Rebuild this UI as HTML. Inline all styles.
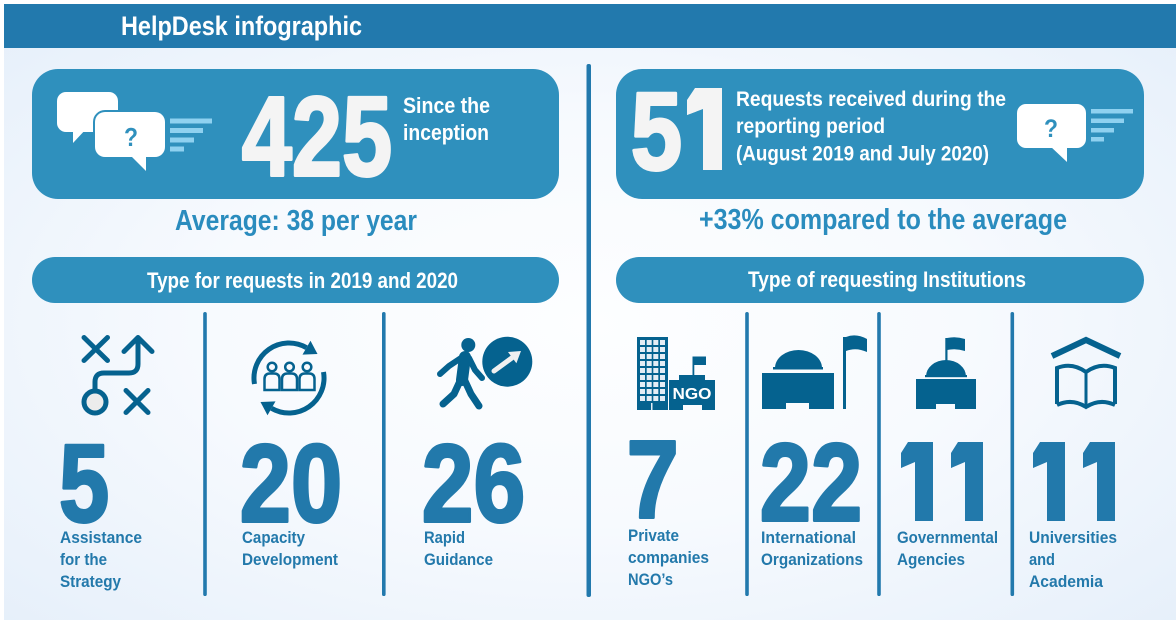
<!DOCTYPE html>
<html>
<head>
<meta charset="utf-8">
<style>
html,body{margin:0;padding:0;background:#fff;}
body{width:1176px;height:620px;overflow:hidden;}
svg{display:block;}
.t{font-family:"Liberation Sans",Arial,sans-serif;font-weight:bold;}
</style>
</head>
<body>
<svg width="1176" height="620" viewBox="0 0 1176 620" xmlns="http://www.w3.org/2000/svg">
<defs>
<radialGradient id="bg" cx="50%" cy="52%" r="72%">
<stop offset="0" stop-color="#fdfeff"/>
<stop offset="0.45" stop-color="#f7fafe"/>
<stop offset="1" stop-color="#e5effa"/>
</radialGradient>
<clipPath id="cg1"><polygon points="908,442 933,442 933,521 915,521 915,462 901,468 901,453"/></clipPath>
<clipPath id="cg2"><polygon points="958,442 983,442 983,521 965,521 965,462 951,468 951,453"/></clipPath>
<clipPath id="cu1"><polygon points="1040,442 1065,442 1065,521 1047,521 1047,462 1033,468 1033,453"/></clipPath>
<clipPath id="cu2"><polygon points="1090,442 1115,442 1115,521 1097,521 1097,462 1083,468 1083,453"/></clipPath>
<clipPath id="c51"><polygon points="695,88 722,88 722,170 703,170 703,109 687,115 687,100"/></clipPath>
</defs>
<rect width="1176" height="620" fill="#fff"/>
<rect x="4" y="4" width="1172" height="616" fill="url(#bg)"/>
<!-- header -->
<rect x="4" y="4" width="1172" height="44" fill="#2279ad"/>
<text class="t" x="121" y="35" font-size="27" fill="#fff" textLength="241" lengthAdjust="spacingAndGlyphs">HelpDesk infographic</text>

<!-- main divider -->
<rect x="586.5" y="64" width="4.5" height="533" rx="2" fill="#2279ad"/>

<!-- left box -->
<rect x="32" y="69" width="527" height="130" rx="26" fill="#2f90bd"/>
<rect x="57" y="92" width="61" height="40" rx="9" fill="#fff"/>
<polygon points="73,128 73,143 87,128" fill="#fff"/>
<rect x="95" y="112" width="70" height="45" rx="10" fill="#fff" stroke="#2f90bd" stroke-width="4"/>
<rect x="95" y="112" width="70" height="45" rx="10" fill="#fff"/>
<polygon points="130,155 146,171 146,155" fill="#fff"/>
<text class="t" x="124" y="146" font-size="26" fill="#2f90bd" textLength="14" lengthAdjust="spacingAndGlyphs">?</text>
<g fill="#8fd1f0">
<rect x="170" y="118.5" width="42" height="5"/>
<rect x="170" y="128" width="33" height="5"/>
<rect x="170" y="137.5" width="24" height="5"/>
<rect x="170" y="146.5" width="14" height="5"/>
</g>
<text class="t" x="241.7" y="175.5" font-size="113" fill="#f4f4f4" stroke="#f4f4f4" stroke-width="3" stroke-linejoin="round" textLength="150.4" lengthAdjust="spacingAndGlyphs">425</text>
<text class="t" x="403" y="113" font-size="22" fill="#fff" textLength="87" lengthAdjust="spacingAndGlyphs">Since the</text>
<text class="t" x="403" y="140" font-size="22" fill="#fff" textLength="86" lengthAdjust="spacingAndGlyphs">inception</text>

<text class="t" x="175" y="230" font-size="29" fill="#2a8cbe" textLength="242" lengthAdjust="spacingAndGlyphs">Average: 38 per year</text>

<rect x="32" y="257" width="527" height="46" rx="23" fill="#2f90bd"/>
<text class="t" x="147" y="288" font-size="22" fill="#fff" textLength="311" lengthAdjust="spacingAndGlyphs">Type for requests in 2019 and 2020</text>

<!-- right box -->
<rect x="616" y="69" width="528" height="130" rx="26" fill="#2f90bd"/>
<text class="t" x="630.8" y="169.5" font-size="110" fill="#f4f4f4" stroke="#f4f4f4" stroke-width="3" stroke-linejoin="round" textLength="51.4" lengthAdjust="spacingAndGlyphs">5</text>
<text class="t" x="679.5" y="169" font-size="110" fill="#f4f4f4" stroke="#f4f4f4" stroke-width="30" stroke-linejoin="round" clip-path="url(#c51)">1</text>
<text class="t" x="736" y="106" font-size="21.5" fill="#fff" textLength="270" lengthAdjust="spacingAndGlyphs">Requests received during the</text>
<text class="t" x="736" y="133" font-size="21.5" fill="#fff" textLength="149" lengthAdjust="spacingAndGlyphs">reporting period</text>
<text class="t" x="736" y="160.5" font-size="21.5" fill="#fff" textLength="253" lengthAdjust="spacingAndGlyphs">(August 2019 and July 2020)</text>
<rect x="1017" y="104" width="69" height="44" rx="9" fill="#fff"/>
<polygon points="1050,146 1067,162 1067,146" fill="#fff"/>
<text class="t" x="1044" y="137" font-size="25" fill="#2f90bd" textLength="14" lengthAdjust="spacingAndGlyphs">?</text>
<g fill="#8fd1f0">
<rect x="1091" y="109" width="42" height="4.5"/>
<rect x="1091" y="118.5" width="33" height="4.5"/>
<rect x="1091" y="128" width="23" height="4.5"/>
<rect x="1091" y="137" width="13" height="4.5"/>
</g>

<text class="t" x="699" y="229" font-size="29" fill="#2a8cbe" textLength="368" lengthAdjust="spacingAndGlyphs">+33% compared to the average</text>

<rect x="616" y="257" width="528" height="46" rx="23" fill="#2f90bd"/>
<text class="t" x="748" y="287" font-size="22" fill="#fff" textLength="278" lengthAdjust="spacingAndGlyphs">Type of requesting Institutions</text>

<!-- bottom dividers -->
<g fill="#2279ad">
<rect x="203.2" y="312" width="3.6" height="284" rx="1.8"/>
<rect x="382" y="312" width="3.6" height="284" rx="1.8"/>
<rect x="745.2" y="312" width="3.6" height="284" rx="1.8"/>
<rect x="877.2" y="312" width="3.6" height="284" rx="1.8"/>
<rect x="1010.5" y="312" width="3.6" height="284" rx="1.8"/>
</g>

<!-- Icon 1 strategy -->
<g stroke="#05628f" stroke-width="5" stroke-linecap="round" stroke-linejoin="round" fill="none">
<line x1="84" y1="337.5" x2="107.5" y2="360.5"/>
<line x1="107.5" y1="337.5" x2="84" y2="360.5"/>
<path d="M138,339 V364 Q138,373 129,373 H104 Q95,373 95,382 V390"/>
<polyline points="124,351.5 138,337.5 152,351.5"/>
<line x1="126" y1="390.5" x2="148" y2="412.5"/>
<line x1="148" y1="390.5" x2="126" y2="412.5"/>
<circle cx="95" cy="402" r="11" fill="#ececec"/>
</g>

<!-- Icon 2 capacity -->
<g stroke="#05628f" fill="none">
<path d="M254.5,384 A35,35 0 0 1 306.5,347.7" stroke-width="5"/>
<path d="M323.5,372 A35,35 0 0 1 271.5,408.3" stroke-width="5"/>
</g>
<g fill="#05628f">
<polygon points="310.5,340.8 302.5,354.6 317.5,354"/>
<polygon points="267.5,415.2 275.5,401.4 260.5,402"/>
</g>
<g stroke="#05628f" stroke-width="2.5" fill="none">
<circle cx="272" cy="367" r="4.3"/>
<circle cx="289.5" cy="367" r="4.3"/>
<circle cx="307" cy="367" r="4.3"/>
<path d="M264.5,390 V379 Q264.5,373.5 270,373.5 H274 Q279.5,373.5 279.5,379 V390 Z"/>
<path d="M282,390 V379 Q282,373.5 287.5,373.5 H291.5 Q297,373.5 297,379 V390 Z"/>
<path d="M299.5,390 V379 Q299.5,373.5 305,373.5 H309 Q314.5,373.5 314.5,379 V390 Z"/>
</g>

<!-- Icon 3 walker -->
<g stroke="#05628f" stroke-linecap="round" stroke-linejoin="round" fill="none">
<line x1="465" y1="357" x2="462" y2="380" stroke-width="12"/>
<polyline points="461,358 449,366 440,374" stroke-width="6"/>
<polyline points="469,358 475,370 482,378" stroke-width="6"/>
<polyline points="460,381 454,394 443,404" stroke-width="7"/>
<polyline points="465,381 471,394 479,406" stroke-width="7"/>
</g>
<circle cx="468.3" cy="345" r="7" fill="#05628f"/>
<circle cx="507.3" cy="361.7" r="25" fill="#05628f"/>
<line x1="494" y1="371" x2="512" y2="357.8" stroke="#f0f0f0" stroke-width="5" stroke-linecap="round"/>
<polygon points="521,351 508,352 516.4,363.2" fill="#f0f0f0"/>

<!-- Icon NGO -->
<rect x="637" y="337" width="31" height="73" fill="#05628f"/>
<g fill="#e4edf5">
<rect x="640" y="340" width="5" height="5"/><rect x="646.7" y="340" width="5" height="5"/><rect x="653.3" y="340" width="5" height="5"/><rect x="660" y="340" width="5" height="5"/>
<rect x="640" y="347" width="5" height="5"/><rect x="646.7" y="347" width="5" height="5"/><rect x="653.3" y="347" width="5" height="5"/><rect x="660" y="347" width="5" height="5"/>
<rect x="640" y="354" width="5" height="5"/><rect x="646.7" y="354" width="5" height="5"/><rect x="653.3" y="354" width="5" height="5"/><rect x="660" y="354" width="5" height="5"/>
<rect x="640" y="361" width="5" height="5"/><rect x="646.7" y="361" width="5" height="5"/><rect x="653.3" y="361" width="5" height="5"/><rect x="660" y="361" width="5" height="5"/>
<rect x="640" y="368" width="5" height="5"/><rect x="646.7" y="368" width="5" height="5"/><rect x="653.3" y="368" width="5" height="5"/><rect x="660" y="368" width="5" height="5"/>
<rect x="640" y="375" width="5" height="5"/><rect x="646.7" y="375" width="5" height="5"/><rect x="653.3" y="375" width="5" height="5"/><rect x="660" y="375" width="5" height="5"/>
<rect x="640" y="382" width="5" height="5"/><rect x="646.7" y="382" width="5" height="5"/><rect x="653.3" y="382" width="5" height="5"/><rect x="660" y="382" width="5" height="5"/>
<rect x="640" y="389" width="5" height="5"/><rect x="646.7" y="389" width="5" height="5"/><rect x="653.3" y="389" width="5" height="5"/><rect x="660" y="389" width="5" height="5"/>
<rect x="640" y="396" width="5" height="5"/><rect x="646.7" y="396" width="5" height="5"/><rect x="653.3" y="396" width="5" height="5"/><rect x="660" y="396" width="5" height="5"/>
<rect x="651" y="403" width="1.5" height="7"/>
</g>
<path d="M669,410 V380 H679 V375 H705 V380 H715 V410 H702 V405 H683 V410 Z" fill="#05628f"/>
<rect x="692.5" y="356.5" width="1.8" height="19" fill="#05628f"/>
<path d="M694,356.5 H706 V365 H694 Z" fill="#05628f"/>
<text class="t" x="672.5" y="399" font-size="16" fill="#fff" textLength="39" lengthAdjust="spacingAndGlyphs">NGO</text>

<!-- Icon International -->
<g fill="#05628f">
<path d="M762,373 H834 V409 H809 V403 H786 V409 H762 Z"/>
<path d="M775,368 A23.5,18 0 0 1 822,368 Z"/>
<rect x="773" y="367" width="50" height="2.5"/>
<rect x="843" y="337" width="3" height="72"/>
<path d="M846,337 Q856,333 867,339 V352 Q856,347 846,351 Z"/>
</g>

<!-- Icon Governmental -->
<g fill="#05628f">
<path d="M916,379 H976 V409 H955 V404 H936 V409 H916 Z"/>
<path d="M926,376.5 A20,16.5 0 0 1 966,376.5 Z"/>
<rect x="925" y="375" width="42" height="2.2"/>
<rect x="945.3" y="338" width="2.2" height="23"/>
<path d="M947,338 Q956,336 965,339 V351 Q956,348 947,350 Z"/>
</g>

<!-- Icon Universities -->
<g stroke="#05628f" fill="none">
<polyline points="1052,356 1086,340 1120,356" stroke-width="6"/>
<path d="M1086,372 Q1072,362 1057,368 V404" stroke-width="4"/>
<path d="M1086,372 Q1100,362 1115,368 V404" stroke-width="4"/>
<line x1="1086" y1="372" x2="1086" y2="406" stroke-width="3"/>
<path d="M1057,405 Q1072,398 1086,407 Q1100,398 1115,405" stroke-width="4"/>
</g>

<!-- Bottom numbers -->
<g class="t" fill="#2279ab" stroke="#2279ab" stroke-width="3" stroke-linejoin="round" font-size="110">
<text x="59" y="521.5" textLength="50.2" lengthAdjust="spacingAndGlyphs">5</text>
<text x="239.8" y="521.5" textLength="102.4" lengthAdjust="spacingAndGlyphs">20</text>
<text x="421.8" y="521.5" textLength="103.5" lengthAdjust="spacingAndGlyphs">26</text>
<text x="626.8" y="517.5" textLength="52" lengthAdjust="spacingAndGlyphs">7</text>
<text x="759.8" y="520.5" textLength="102.4" lengthAdjust="spacingAndGlyphs">22</text>
</g>
<g class="t" fill="#2279ab" stroke="#2279ab" stroke-width="30" stroke-linejoin="round" font-size="110">
<text x="891.5" y="521" clip-path="url(#cg1)">1</text>
<text x="941.5" y="521" clip-path="url(#cg2)">1</text>
<text x="1023.5" y="521" clip-path="url(#cu1)">1</text>
<text x="1073.5" y="521" clip-path="url(#cu2)">1</text>
</g>

<!-- Bottom labels -->
<g class="t" fill="#2379ab" font-size="17">
<text x="60" y="543" textLength="82" lengthAdjust="spacingAndGlyphs">Assistance</text>
<text x="60" y="565" textLength="47" lengthAdjust="spacingAndGlyphs">for the</text>
<text x="60" y="587" textLength="61" lengthAdjust="spacingAndGlyphs">Strategy</text>
<text x="242" y="543" textLength="63" lengthAdjust="spacingAndGlyphs">Capacity</text>
<text x="242" y="565" textLength="96" lengthAdjust="spacingAndGlyphs">Development</text>
<text x="424" y="543" textLength="41" lengthAdjust="spacingAndGlyphs">Rapid</text>
<text x="424" y="565" textLength="69" lengthAdjust="spacingAndGlyphs">Guidance</text>
<text x="628" y="541" textLength="51" lengthAdjust="spacingAndGlyphs">Private</text>
<text x="628" y="563" textLength="81" lengthAdjust="spacingAndGlyphs">companies</text>
<text x="628" y="585" textLength="45" lengthAdjust="spacingAndGlyphs">NGO’s</text>
<text x="761" y="543" textLength="95" lengthAdjust="spacingAndGlyphs">International</text>
<text x="761" y="565" textLength="102" lengthAdjust="spacingAndGlyphs">Organizations</text>
<text x="897" y="543" textLength="101" lengthAdjust="spacingAndGlyphs">Governmental</text>
<text x="897" y="565" textLength="68" lengthAdjust="spacingAndGlyphs">Agencies</text>
<text x="1029" y="543" textLength="88" lengthAdjust="spacingAndGlyphs">Universities</text>
<text x="1029" y="565" textLength="26" lengthAdjust="spacingAndGlyphs">and</text>
<text x="1029" y="587" textLength="74" lengthAdjust="spacingAndGlyphs">Academia</text>
</g>
</svg>
</body>
</html>
